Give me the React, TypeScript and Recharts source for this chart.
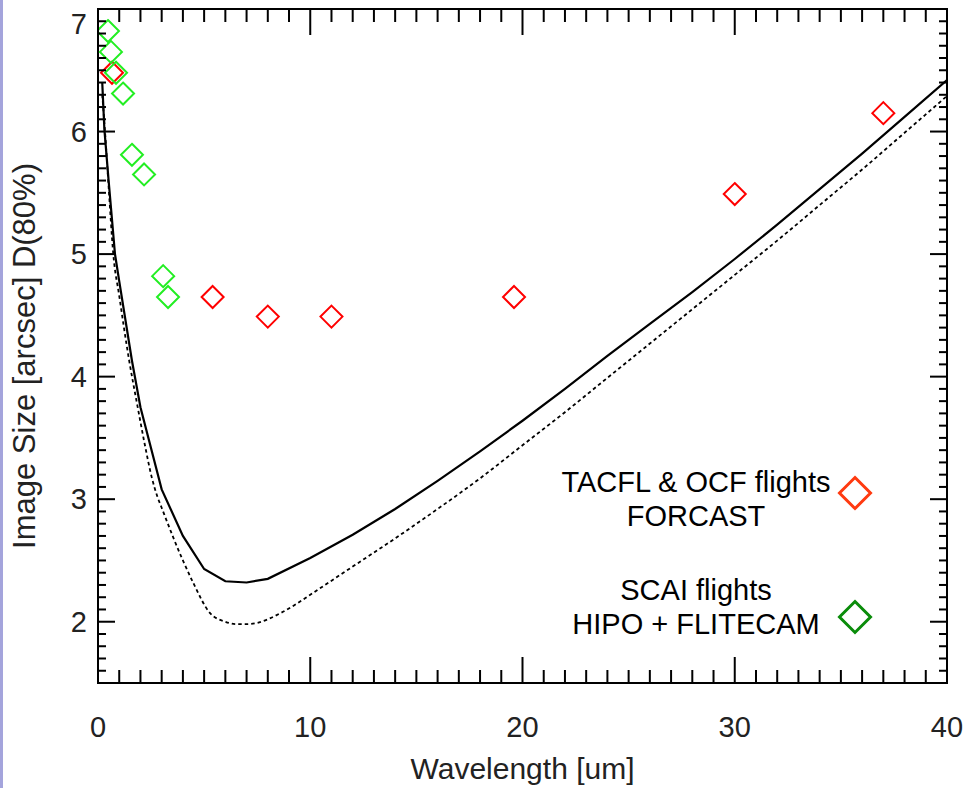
import React from 'react';
import { ComposedChart, Line, Scatter, XAxis, YAxis, ReferenceArea, Legend } from 'recharts';

// ---- data ----
const solidWl = [0.2, 0.3, 0.5, 0.8, 1.0, 1.6, 2.0, 3.0, 4.0, 5.0, 6.0, 7.0, 8.0, 10, 12, 14, 16, 18, 20, 22, 24, 26, 28, 30, 32, 34, 36, 38, 40];
const solidSize = [6.40, 6.02, 5.60, 5.00, 4.78, 4.13, 3.75, 3.08, 2.70, 2.43, 2.33, 2.32, 2.35, 2.52, 2.71, 2.92, 3.15, 3.39, 3.64, 3.90, 4.17, 4.43, 4.69, 4.96, 5.24, 5.53, 5.82, 6.12, 6.42];

const dashWl = [0.2, 0.33, 0.5, 0.72, 1.0, 1.46, 1.86, 2.2, 2.53, 2.8, 3.0, 3.54, 4.0, 4.48, 5.28, 6.0, 6.5, 7.0, 7.5, 8.0, 8.6, 9.3, 10, 12, 14, 16, 18, 20, 22, 24, 26, 28, 30, 32, 34, 36, 38, 40];
const dashSize = [6.30, 6.00, 5.55, 5.00, 4.66, 4.14, 3.76, 3.45, 3.18, 3.02, 2.93, 2.69, 2.50, 2.32, 2.07, 2.00, 1.98, 1.98, 1.99, 2.02, 2.07, 2.14, 2.22, 2.45, 2.68, 2.92, 3.17, 3.44, 3.71, 3.99, 4.27, 4.55, 4.83, 5.11, 5.40, 5.69, 5.99, 6.29];

const forcastWl = [0.66, 5.4, 8.0, 11.0, 19.6, 30.0, 37.0];
const forcastSize = [6.48, 4.65, 4.49, 4.49, 4.65, 5.49, 6.15];

const hipoWl = [0.47, 0.61, 0.85, 1.18, 1.6, 2.17, 3.07, 3.3];
const hipoSize = [6.82, 6.65, 6.48, 6.31, 5.81, 5.65, 4.82, 4.65];

const legendLines = [
  ['TACFL & OCF flights', 'FORCAST'],
  ['SCAI flights', 'HIPO + FLITECAM'],
];
const legendColors = ['#ff3a10', '#0a8c0a'];

const xTicks = Array.from({ length: 41 }, (_, i) => i);
const yTicks = Array.from({ length: 56 }, (_, i) => Math.round(15 + i) / 10);

const zip = (xs: number[], ys: number[]) => xs.map((x, i) => ({ x, y: ys[i] }));
const solidData = zip(solidWl, solidSize);
const dashData = zip(dashWl, dashSize);
const forcastData = zip(forcastWl, forcastSize);
const hipoData = zip(hipoWl, hipoSize);

// ---- layout/style ----
const FONT = '"Liberation Sans", Arial, Helvetica, sans-serif';
const PLOT_TOP = 9;
const PLOT_RIGHT = 947;

const XTick = (props: any) => {
  const { x, y, payload } = props;
  const v = payload.value;
  const major = v % 10 === 0;
  const len = major ? 26 : 13;
  return (
    <g>
      <line x1={x} y1={y} x2={x} y2={y - len} stroke="#000" strokeWidth={2} />
      <line x1={x} y1={PLOT_TOP} x2={x} y2={PLOT_TOP + len} stroke="#000" strokeWidth={2} />
      {major && (
        <text x={x} y={y + 54} textAnchor="middle" fontSize={29} fill="#222" fontFamily={FONT}>
          {v}
        </text>
      )}
    </g>
  );
};

const YTick = (props: any) => {
  const { x, y, payload } = props;
  const v = payload.value;
  const major = Math.abs(v - Math.round(v)) < 1e-6;
  const len = major ? 17 : 8;
  return (
    <g>
      <line x1={x} y1={y} x2={x + len} y2={y} stroke="#000" strokeWidth={2} />
      <line x1={PLOT_RIGHT} y1={y} x2={PLOT_RIGHT - len} y2={y} stroke="#000" strokeWidth={2} />
      {major && (
        <text x={x - 11} y={y < PLOT_TOP + 10 ? y + 25 : y + 10} textAnchor="end" fontSize={29} fill="#222" fontFamily={FONT}>
          {Math.round(v)}
        </text>
      )}
    </g>
  );
};

const YLabel = (props: any) => {
  const vb = props.viewBox || { x: 0, y: 9, width: 98, height: 674 };
  const cx = vb.x + 35;
  const cy = vb.y + vb.height / 2 + 10;
  return (
    <text x={cx} y={cy} transform={`rotate(-90 ${cx} ${cy})`} textAnchor="middle" fontSize={31} fill="#222" fontFamily={FONT}>
      Image Size [arcsec] D(80%)
    </text>
  );
};

const diamond = (color: string, r: number, sw: number) => (props: any) => {
  const { cx, cy } = props;
  if (cx == null || cy == null) return <g />;
  return (
    <path
      d={`M${cx},${cy - r} L${cx + r},${cy} L${cx},${cy + r} L${cx - r},${cy} Z`}
      fill="none"
      stroke={color}
      strokeWidth={sw}
    />
  );
};

const LEG_TEXT_TOP = [5, 113];
const LEG_DIAMOND_Y = [33, 157];

const LegendBox = () => (
  <div style={{ position: 'relative', width: 340, height: 190, fontFamily: FONT, fontSize: 29, color: '#000' }}>
    {legendLines.map((lines, i) => (
      <React.Fragment key={i}>
        <div style={{ position: 'absolute', left: 6, top: LEG_TEXT_TOP[i], width: 300, textAlign: 'center', lineHeight: '34px', whiteSpace: 'nowrap' }}>
          {lines.map((l) => (
            <div key={l}>{l}</div>
          ))}
        </div>
        <svg style={{ position: 'absolute', left: 315 - 18, top: LEG_DIAMOND_Y[i] - 18 }} width={36} height={36}>
          <path d="M18,2.5 L33.5,18 L18,33.5 L2.5,18 Z" fill="none" stroke={legendColors[i]} strokeWidth={3} />
        </svg>
      </React.Fragment>
    ))}
  </div>
);

export default function App() {
  return (
    <div style={{ position: 'absolute', left: 0, top: 0, width: 966, height: 788, background: '#fff' }}>
      <div style={{ position: 'absolute', left: 0, top: 0, width: 3, height: 788, background: '#a4a4dc' }} />
      <ComposedChart width={966} height={788} margin={{ top: 9, right: 19, bottom: 0, left: 0 }}>
        <XAxis
          dataKey="x"
          type="number"
          domain={[0, 40]}
          ticks={xTicks}
          interval={0}
          allowDataOverflow
          height={105}
          tickSize={0}
          tickMargin={0}
          tickLine={false}
          axisLine={false}
          tick={<XTick />}
          label={{ value: 'Wavelength [um]', position: 'insideBottom', offset: 9, style: { fontSize: 30, fill: '#222', fontFamily: FONT } }}
        />
        <YAxis
          type="number"
          domain={[1.5, 7]}
          ticks={yTicks}
          interval={0}
          allowDataOverflow
          width={98}
          tickSize={0}
          tickMargin={0}
          tickLine={false}
          axisLine={false}
          tick={<YTick />}
          label={(p: any) => <YLabel {...p} />}
        />
        <ReferenceArea x1={0} x2={40} y1={1.5} y2={7} fill="none" fillOpacity={0} stroke="#000" strokeWidth={2} ifOverflow="visible" />
        <Line data={solidData} dataKey="y" type="linear" dot={false} stroke="#000" strokeWidth={2.2} isAnimationActive={false} legendType="none" />
        <Line data={dashData} dataKey="y" type="monotone" dot={false} stroke="#000" strokeWidth={1.8} strokeDasharray="3.5 3" isAnimationActive={false} legendType="none" />
        <Scatter name={legendLines[0].join(' ')} data={forcastData} dataKey="y" fill="#ff0000" shape={diamond('#ff0000', 11, 2)} isAnimationActive={false} />
        <Scatter name={legendLines[1].join(' ')} data={hipoData} dataKey="y" fill="#22ee22" shape={diamond('#22ee22', 11, 2)} isAnimationActive={false} />
        <Legend
          layout="vertical"
          align="center"
          verticalAlign="middle"
          content={() => <LegendBox />}
          wrapperStyle={{ left: 540, top: 460, width: 340, height: 190 }}
        />
      </ComposedChart>
    </div>
  );
}
